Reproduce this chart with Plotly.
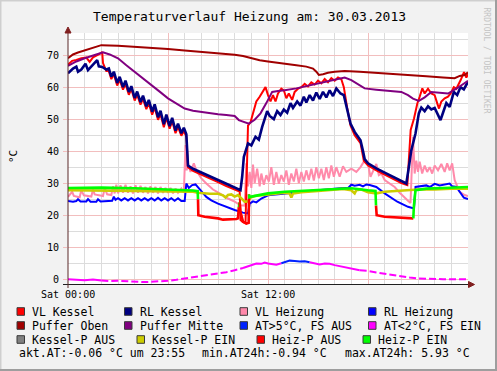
import plotly.graph_objects as go

# ---------------- data (hours since Sat 00:00, °C) ----------------
PUFFER_OBEN_T = [0, 0.3, 0.6, 1.0, 1.4, 1.7, 2.0, 3, 4, 5, 6, 7, 8, 9, 10, 10.5, 11, 11.5, 12, 12.5, 13,
                 13.7, 14.3, 14.7, 14.9, 15.05, 15.3, 15.6, 16.0, 16.6, 17.5, 18.5, 19.5, 20.5, 21.5, 22.5,
                 23.2, 23.5, 23.8, 24]
PUFFER_OBEN_V = [69, 70.2, 70.8, 71.4, 72.0, 72.5, 73.1, 72.9, 72.6, 72.3, 71.9, 71.4, 71.0, 70.6, 70.1,
                 69.7, 69.0, 68.4, 68.0, 67.6, 67.2, 66.8, 66.4, 65.8, 64.8, 63.8, 64.0, 64.5, 64.8, 65.0,
                 64.8, 64.5, 64.2, 63.8, 63.4, 63.0, 62.8, 63.5, 63.8, 64.6]

PUFFER_MITTE_T = [0, 0.5, 1.0, 1.5, 2.1, 2.5, 3.0, 3.5, 4.0, 4.5, 5.0, 5.5, 6.0, 6.5, 7.0, 7.5, 8.0, 8.5,
                  9.0, 9.5, 10.0, 10.25, 10.5, 10.85, 11.2, 11.55, 11.9, 12.25, 12.6, 13.0, 13.7, 14.3,
                  15.0, 15.6, 16.2, 16.6, 17.0, 17.4, 17.8, 18.5, 19.3, 20.0, 20.4, 20.7, 21.05, 21.4,
                  21.8, 22.3, 22.8, 23.3, 23.8, 24]
PUFFER_MITTE_V = [66.6, 68, 69, 69.8, 70.9, 70.2, 69.0, 66.8, 64.8, 62.7, 60.6, 58.6, 56.5, 54.8, 53.3,
                  52.6, 52.2, 51.8, 51.5, 51.3, 51.0, 49.7, 49.2, 48.6, 49.8, 51.8, 55.0, 58.5, 58.8,
                  59.0, 59.6, 60.3, 61.1, 61.7, 62.4, 63.0, 62.2, 60.8, 59.6, 59.2, 58.9, 58.5, 57.5,
                  56.4, 55.7, 56.8, 58.5, 58.3, 58.0, 59.5, 61.1, 62.0]

RL_KESSEL_T = [0.0, 0.3, 0.5, 0.6, 0.8, 1.05, 1.2, 1.4, 1.75, 1.85, 2.05, 2.3, 2.45, 2.6, 2.75, 2.95, 3.1,
               3.3, 3.45, 3.65, 3.8, 4.0, 4.15, 4.35, 4.5, 4.7, 4.85, 5.05, 5.2, 5.4, 5.55, 5.75, 5.9,
               6.1, 6.25, 6.45, 6.6, 6.8, 6.95, 7.1, 7.2, 7.5, 8.0, 8.5, 9.0, 9.5, 10.0, 10.35, 10.45,
               10.55, 10.8, 11.0, 11.25, 11.45, 11.65, 11.8, 11.95, 12.1, 12.35, 12.55, 12.75, 12.95,
               13.15, 13.35, 13.5, 13.75, 13.95, 14.15, 14.3, 14.5, 14.7, 14.9, 15.1, 15.3, 15.5, 15.7,
               15.9, 16.1, 16.35, 16.55, 16.75, 16.95, 17.2, 17.55, 17.7, 17.8, 18.0, 18.5, 19.0, 19.5,
               20.0, 20.3, 20.45, 20.6, 20.85, 21.05, 21.2, 21.4, 21.6, 21.8, 22.0, 22.2, 22.35, 22.5,
               22.7, 22.9, 23.15, 23.35, 23.55, 23.75, 23.9, 24.0]
RL_KESSEL_V = [64.3, 65.8, 66.4, 64.8, 65.5, 67.3, 65.3, 66.5, 68.4, 66.5, 66.3, 65.5, 65.8, 63.3, 64.8,
               61.3, 63.2, 60.0, 62.0, 58.5, 60.3, 56.6, 58.6, 55.3, 57.3, 54.0, 56.0, 52.3, 54.6, 50.6,
               52.6, 48.4, 51.4, 47.8, 50.4, 46.4, 48.6, 45.6, 47.3, 45.3, 35.5, 34.5, 33.4, 32.3, 31.0,
               29.8, 28.6, 27.8, 32.0, 38.2, 42.4, 41.8, 44.5, 43.6, 47.6, 49.8, 52.5, 51.0, 50.0, 52.5,
               51.3, 53.0, 52.0, 55.0, 53.5, 55.5, 54.2, 57.0, 55.2, 57.5, 55.8, 58.3, 56.3, 58.5, 56.8,
               59.0, 57.2, 59.6, 58.0, 57.5, 53.0, 48.6, 46.0, 43.4, 40.0, 37.5, 36.2, 34.6, 33.3, 31.9,
               30.6, 29.9, 35.0, 40.3, 45.5, 51.8, 53.6, 52.5, 54.0, 53.0, 53.5, 51.0, 49.7, 52.0, 55.0,
               53.8, 58.5, 57.5, 60.0, 59.3, 61.0, 61.7]

VL_KESSEL_T = [0.0, 0.25, 0.5, 0.8, 1.1, 1.3, 1.5, 1.8, 1.95, 2.05, 2.1, 2.3, 2.45, 2.6, 2.75, 2.95, 3.1,
               3.3, 3.45, 3.65, 3.8, 4.0, 4.15, 4.35, 4.5, 4.7, 4.85, 5.05, 5.2, 5.4, 5.55, 5.75, 5.9,
               6.1, 6.25, 6.45, 6.6, 6.8, 6.95, 7.1, 7.2, 7.5, 8.0, 8.5, 9.0, 9.5, 10.0, 10.3, 10.35,
               10.5, 10.65, 10.7, 10.8, 10.95, 11.1, 11.3, 11.5, 11.7, 11.85, 12.0, 12.15, 12.3, 12.45,
               12.6, 12.8, 12.95, 13.1, 13.25, 13.45, 13.6, 13.8, 14.0, 14.2, 14.4, 14.6, 14.8, 15.0,
               15.2, 15.4, 15.6, 15.8, 16.0, 16.2, 16.4, 16.55, 16.75, 16.95, 17.2, 17.55, 17.75, 18.0,
               18.5, 19.0, 19.5, 20.0, 20.36, 20.5, 20.56, 20.76, 20.96, 21.1, 21.26, 21.4, 21.6, 21.8,
               22.0, 22.15, 22.26, 22.4, 22.6, 22.8, 22.96, 23.15, 23.3, 23.56, 23.76, 23.9, 24.0]
VL_KESSEL_V = [67.0, 68.2, 68.5, 69.0, 69.2, 67.9, 69.3, 70.0, 70.5, 71.0, 67.5, 65.0, 65.0, 62.5, 64.0,
               60.5, 62.3, 59.2, 61.0, 57.6, 59.4, 55.8, 57.6, 54.5, 56.3, 53.1, 55.0, 51.4, 53.6, 49.8,
               51.6, 47.5, 50.4, 47.0, 49.4, 45.6, 47.6, 44.8, 46.3, 44.5, 35.0, 33.8, 32.7, 31.6, 30.3,
               29.1, 27.9, 27.4, 18.5, 17.8, 17.5, 30.0, 48.0, 49.0, 52.0, 55.5, 57.0, 58.5, 60.0, 57.5,
               55.5, 57.5, 55.5, 58.0, 59.5, 59.0, 56.5, 58.0, 56.0, 58.5, 59.5, 60.0, 61.0, 60.2, 61.5,
               60.8, 62.0, 61.2, 62.5, 61.5, 62.8, 62.0, 63.0, 62.5, 60.0, 53.5, 48.0, 45.0, 42.5, 37.0,
               35.5, 34.0, 32.6, 31.3, 30.0, 29.4, 40.0, 46.6, 50.2, 54.9, 57.0, 59.6, 58.0, 59.5, 58.0,
               57.5, 55.0, 53.3, 55.5, 56.5, 57.0, 58.0, 60.0, 59.5, 62.2, 64.7, 63.0, 64.0]

VL_HEIZUNG_T = [0.0, 0.25, 0.35, 0.7, 0.8, 0.95, 1.4, 1.5, 1.6, 2.1, 2.2, 2.35, 2.6, 2.7, 2.8, 2.9, 3.0,
                3.15, 3.3, 3.45, 3.6, 3.75, 3.9, 4.05, 4.2, 4.35, 4.5, 4.65, 4.8, 4.95, 5.1, 5.25, 5.4,
                5.55, 5.7, 5.85, 6.0, 6.15, 6.3, 6.45, 6.6, 6.8, 6.95, 7.05, 7.12, 7.2, 7.35, 7.55, 7.7,
                8.0, 8.3, 8.7, 9.1, 9.6, 10.0, 10.35, 10.6, 10.7, 10.8, 10.9, 11.0, 11.1, 11.2, 11.35,
                11.5, 11.6, 11.75, 11.9, 12.05, 12.2, 12.35, 12.5, 12.65, 12.8, 12.95, 13.1, 13.25, 13.4,
                13.55, 13.7, 13.85, 14.0, 14.15, 14.3, 14.45, 14.6, 14.75, 14.9, 15.05, 15.2, 15.35,
                15.5, 15.65, 15.8, 15.95, 16.1, 16.3, 16.5, 16.7, 17.0, 17.3, 17.55, 17.75, 18.0, 18.15,
                18.3, 18.5, 18.65, 18.8, 19.0, 19.3, 19.6, 19.9, 20.2, 20.4, 20.55, 20.7, 20.8, 20.9,
                21.0, 21.1, 21.25, 21.4, 21.55, 21.7, 21.85, 22.0, 22.2, 22.4, 22.6, 22.75, 22.9, 23.05,
                23.2, 23.5, 23.8, 24.0]
VL_HEIZUNG_V = [25.7, 27.3, 26.0, 25.6, 27.8, 26.2, 25.8, 28.0, 26.5, 26.0, 28.5, 26.5, 26.3, 29.0, 26.8,
                29.5, 26.8, 29.3, 27.0, 29.5, 27.0, 29.0, 26.8, 29.3, 27.0, 29.2, 27.0, 28.8, 26.8, 29.0,
                27.0, 28.8, 26.8, 28.8, 27.0, 28.5, 27.0, 28.5, 26.8, 28.3, 27.0, 28.3, 27.0, 41.9, 34.0,
                36.2, 33.5, 36.2, 34.0, 31.5, 29.9, 28.0, 26.8, 25.2, 24.2, 23.1, 23.0, 36.2, 29.0, 33.5,
                28.5, 35.8, 30.0, 34.5, 29.0, 33.0, 29.5, 32.5, 30.5, 35.0, 29.5, 33.5, 29.8, 32.5, 30.5,
                34.0, 29.5, 33.0, 30.5, 34.5, 30.0, 33.5, 30.5, 34.0, 31.0, 34.5, 30.8, 35.0, 31.5, 34.5,
                31.0, 35.0, 31.5, 35.5, 32.0, 35.0, 32.0, 35.3, 33.5, 34.5, 33.5, 35.0, 36.7, 36.0, 32.0,
                33.5, 36.0, 32.5, 33.0, 31.0, 30.0, 28.8, 27.0, 25.3, 24.5, 23.8, 44.5, 33.0, 37.0, 33.5,
                36.7, 33.0, 35.5, 33.5, 35.0, 33.0, 35.5, 34.0, 36.0, 33.5, 36.2, 34.0, 36.2, 30.9, 27.3,
                26.3, 26.0]

RL_HEIZUNG_T = [0.0, 0.3, 0.5, 0.6, 0.75, 1.1, 1.2, 1.35, 1.7, 1.8, 1.95, 2.3, 2.65, 2.75, 2.85, 3.0, 3.2,
                3.4, 3.6, 3.8, 4.0, 4.2, 4.4, 4.6, 4.8, 5.0, 5.2, 5.4, 5.6, 5.8, 6.0, 6.2, 6.4, 6.6, 6.8,
                7.0, 7.1, 7.25, 7.45, 7.65, 7.8, 8.0, 8.3, 8.6, 9.0, 9.5, 10.0, 10.5, 10.8, 10.9, 11.1,
                11.3, 11.6, 12.0, 12.5, 13.0, 13.5, 14.0, 14.5, 15.0, 15.5, 16.0, 16.5, 16.8, 17.0, 17.2,
                17.5, 17.7, 17.9, 18.1, 18.5, 19.0, 19.76, 20.4, 20.76, 20.85, 21.2, 21.5, 21.7, 22.0,
                22.3, 22.6, 22.9, 23.05, 23.3, 23.5, 23.75, 24.0]
RL_HEIZUNG_V = [24.4, 24.2, 24.4, 25.0, 24.3, 24.3, 25.0, 24.2, 24.2, 25.0, 24.3, 24.5, 24.5, 25.8, 24.8,
                25.3, 24.6, 25.3, 24.6, 25.3, 24.6, 25.3, 24.6, 25.3, 24.6, 25.3, 24.6, 25.4, 24.6, 25.3,
                24.6, 25.3, 24.5, 25.3, 24.4, 24.4, 29.9, 28.5, 29.4, 29.6, 28.8, 27.5, 25.7, 24.6, 23.6,
                22.5, 21.6, 20.8, 20.5, 23.6, 24.3, 24.0, 25.2, 26.2, 26.5, 26.8, 27.0, 27.4, 27.6, 27.8,
                28.0, 28.3, 28.5, 28.4, 29.5, 29.2, 29.5, 29.0, 29.6, 29.4, 28.8, 26.8, 24.2, 22.6, 22.1,
                28.8, 29.0, 29.3, 28.8, 29.8, 29.3, 29.6, 29.9, 29.0, 28.8, 27.3, 25.5, 25.0]

KESSEL_P_T = [0.0, 1.0, 2.0, 3.0, 4.0, 5.0, 6.0, 7.0, 7.5, 7.8, 8.0, 8.5, 9.0, 9.3, 9.45, 9.6, 9.8, 10.0,
              10.2, 10.4, 10.6, 10.8, 10.95, 11.2, 11.5, 12.0, 12.5, 13.0, 13.3, 13.4, 13.5, 14.0, 15.0,
              16.0, 16.5, 17.0, 17.2, 17.3, 17.6, 18.0, 18.5, 19.0, 19.5, 20.0, 20.5, 21.0, 22.0, 23.0,
              24.0]
KESSEL_P_V = [27.8, 27.8, 27.7, 27.7, 27.6, 27.5, 27.4, 27.3, 27.3, 27.0, 26.9, 26.7, 26.7, 26.2, 25.5,
              26.3, 26.5, 25.8, 26.3, 25.4, 24.2, 24.3, 25.5, 26.0, 26.2, 26.5, 26.8, 27.0, 26.8, 25.5,
              26.8, 27.2, 27.6, 28.0, 28.2, 27.8, 26.8, 27.8, 28.0, 27.2, 26.8, 27.3, 27.5, 27.7, 27.9,
              28.0, 28.0, 28.3, 28.3]

HEIZ_P_T = [0.0, 2.0, 4.0, 6.0, 7.0, 7.5, 7.78, 7.8, 7.82, 8.2, 8.5, 9.0, 9.3, 9.8, 10.1, 10.2, 10.25,
            10.3, 10.35, 10.5, 10.7, 10.84, 10.86, 10.88, 11.0, 11.5, 12.0, 13.0, 14.0, 15.0, 16.0, 17.0,
            18.0, 18.45, 18.48, 18.52, 19.0, 20.0, 20.6, 20.72, 20.75, 20.85, 21.5, 22.5, 23.5, 24.0]
HEIZ_P_V = [28.5, 28.6, 28.4, 28.1, 27.8, 27.7, 27.5, 25.0, 20.0, 19.5, 19.4, 19.0, 18.6, 18.6, 18.8,
            19.0, 22.5, 24.0, 21.0, 18.0, 17.4, 17.6, 26.5, 25.6, 25.8, 26.2, 26.8, 27.3, 27.6, 28.0,
            28.3, 28.4, 27.8, 27.6, 23.0, 20.0, 19.5, 19.2, 19.0, 19.0, 22.6, 27.8, 28.3, 28.5, 28.8,
            28.8]
HEIZ_P_ON = [1, 1, 1, 1, 1, 1, 1, 1, 0, 0, 0, 0, 0, 0, 0, 0, 0, 1, 0, 0, 0, 0, 0, 1, 1, 1, 1, 1, 1, 1,
             1, 1, 1, 1, 1, 0, 0, 0, 0, 0, 1, 1, 1, 1, 1, 1]

AT_T = [0.0, 0.5, 1.0, 1.5, 2.0, 2.5, 3.0, 3.5, 4.0, 4.5, 5.0, 5.5, 6.0, 6.5, 7.0, 7.5, 8.0, 8.5, 9.0,
        9.5, 10.0, 10.5, 11.0, 11.3, 11.6, 11.8, 12.0, 12.3, 12.5, 12.8, 13.0, 13.3, 13.6, 13.9, 14.2,
        14.5, 14.8, 15.1, 15.4, 15.7, 16.0, 16.5, 17.0, 17.5, 18.0, 18.5, 19.0, 19.5, 20.0, 20.5, 21.0,
        21.5, 22.0, 22.5, 23.0, 23.5, 24.0]
AT_V = [0.0, -0.2, -0.3, -0.1, -0.4, -0.6, -0.5, -0.7, -0.8, -0.9, -0.8, -0.7, -0.5, -0.2, 0.2, 0.5,
        0.9, 1.3, 1.7, 2.2, 2.8, 3.5, 4.5, 4.9, 4.8, 5.2, 4.9, 4.6, 4.5, 5.0, 5.4, 5.8, 5.7, 5.5, 5.6,
        5.3, 5.0, 4.6, 4.9, 4.8, 4.4, 3.9, 3.3, 2.8, 2.6, 2.1, 1.7, 1.1, 0.7, 0.5, 0.2, 0.1, -0.1, 0.0,
        0.0, -0.1, -0.06]

X_TICKS = [0, 6, 12, 18]
X_TICK_LABELS = ["Sat 00:00", "", "Sat 12:00", ""]
Y_TICKS = [0, 10, 20, 30, 40, 50, 60, 70]

LEGEND_ROWS = [
    [("VL Kessel", "#FF0000"), ("RL Kessel", "#000080"), ("VL Heizung", "#FF88AA"), ("RL Heizung", "#0000FF")],
    [("Puffer Oben", "#A00000"), ("Puffer Mitte", "#800080"), ("AT>5°C, FS AUS", "#0022FF"),
     ("AT<2°C, FS EIN", "#FF00FF")],
    [("Kessel-P AUS", "#808080"), ("Kessel-P EIN", "#CCCC00"), ("Heiz-P AUS", "#FF0000"),
     ("Heiz-P EIN", "#00FF00")],
]
STATS_TEXT = ["akt.AT:-0.06 °C um 23:55", "min.AT24h:-0.94 °C", "max.AT24h: 5.93 °C"]
TITLE = "Temperaturverlauf Heizung am: 30.03.2013"

# ---------------- styling / geometry ----------------
W, H = 497, 371
PL, PR, PT, PB = 68, 468, 33, 284
MONO = "DejaVu Sans Mono"
MAJ = "#F2BEBE"
MIN = "#DCDCDC"
LEG_FONT = 11.5


def PX(x):
    return (x - PL) / (PR - PL)


def PY(y):
    return (PB - y) / (PB - PT)


fig = go.Figure()


def add_line(t, v, color, width, dash="solid"):
    fig.add_trace(go.Scatter(x=t, y=v, mode="lines",
                             line=dict(color=color, width=width, dash=dash),
                             hoverinfo="skip", showlegend=False))


def add_segmented(t, v, keys, width):
    start = 0
    cur = keys[0]
    for i in range(1, len(keys)):
        if keys[i] != cur:
            add_line(t[start:i + 1], v[start:i + 1], cur[0], width, cur[1])
            start = i
            cur = keys[i]
    add_line(t[start:], v[start:], cur[0], width, cur[1])


add_line(VL_HEIZUNG_T, VL_HEIZUNG_V, "#FF8AAA", 2)
add_line(RL_HEIZUNG_T, RL_HEIZUNG_V, "#0000FF", 2)
add_line(VL_KESSEL_T, VL_KESSEL_V, "#FF0000", 2)
add_line(RL_KESSEL_T, RL_KESSEL_V, "#000080", 2.6)
add_line(PUFFER_OBEN_T, PUFFER_OBEN_V, "#A00000", 2)
add_line(PUFFER_MITTE_T, PUFFER_MITTE_V, "#800080", 2)

# outside temperature: blue when above 5°C, magenta otherwise; gaps shown dashed
SOLID_RANGES = [(0, 2.2), (10.3, 17.6)]
at_keys = []
for i in range(len(AT_T) - 1):
    mid = (AT_T[i] + AT_T[i + 1]) / 2
    col = "#0022FF" if AT_V[i + 1] > 5.0 and AT_V[i] > 4.9 else "#FF00FF"
    solid = any(a <= mid <= b for a, b in SOLID_RANGES)
    at_keys.append((col, "solid" if solid else "7px,3px"))
add_segmented(AT_T, AT_V, at_keys, 2)

add_line(KESSEL_P_T, KESSEL_P_V, "#CCCC00", 2.6)
hp_keys = [("#00FF00" if HEIZ_P_ON[i + 1] else "#FF0000", "solid") for i in range(len(HEIZ_P_T) - 1)]
add_segmented(HEIZ_P_T, HEIZ_P_V, hp_keys, 2.6)

shapes = []
# frame shading
shapes.append(dict(type="rect", xref="paper", yref="paper", x0=PX(0), x1=PX(W), y0=PY(0), y1=PY(1.5),
                   line=dict(width=0), fillcolor="#CFCFCF", layer="below"))
shapes.append(dict(type="rect", xref="paper", yref="paper", x0=PX(0), x1=PX(1.5), y0=PY(0), y1=PY(H),
                   line=dict(width=0), fillcolor="#CFCFCF", layer="below"))
shapes.append(dict(type="rect", xref="paper", yref="paper", x0=PX(W - 2), x1=PX(W), y0=PY(0), y1=PY(H),
                   line=dict(width=0), fillcolor="#9E9E9E", layer="below"))
shapes.append(dict(type="rect", xref="paper", yref="paper", x0=PX(0), x1=PX(W), y0=PY(H - 2), y1=PY(H),
                   line=dict(width=0), fillcolor="#9E9E9E", layer="below"))
# axes + arrows
shapes.append(dict(type="line", xref="paper", yref="paper", x0=PX(63), x1=PX(469), y0=PY(284.5), y1=PY(284.5),
                   line=dict(color="#1F1F1F", width=1)))
shapes.append(dict(type="line", xref="paper", yref="paper", x0=PX(68), x1=PX(68), y0=PY(288), y1=PY(30),
                   line=dict(color="#5A2828", width=1)))
shapes.append(dict(type="path", xref="paper", yref="paper",
                   path=f"M {PX(468.5)},{PY(281.5)} L {PX(474.5)},{PY(284.5)} L {PX(468.5)},{PY(287.5)} Z",
                   fillcolor="#801F1F", line=dict(color="#801F1F", width=1)))
shapes.append(dict(type="path", xref="paper", yref="paper",
                   path=f"M {PX(65)},{PY(33)} L {PX(68)},{PY(27)} L {PX(71)},{PY(33)} Z",
                   fillcolor="#801F1F", line=dict(color="#801F1F", width=1)))

annotations = []
annotations.append(dict(text=TITLE, x=PX(249), y=PY(16.5), xref="paper", yref="paper", showarrow=False,
                        xanchor="center", yanchor="middle", font=dict(family=MONO, size=13, color="#000")))
annotations.append(dict(text="°C", x=PX(13), y=PY(156), xref="paper", yref="paper", showarrow=False,
                        textangle=-90, xanchor="center", yanchor="middle",
                        font=dict(family=MONO, size=11, color="#000")))
annotations.append(dict(text="RRDTOOL / TOBI OETIKER", x=PX(486.5), y=PY(61), xref="paper", yref="paper",
                        showarrow=False, textangle=90, xanchor="center", yanchor="middle",
                        font=dict(family=MONO, size=8, color="#C4C4C4")))

# x tick labels placed as text at the tick positions
for tv, tl in zip(X_TICKS, X_TICK_LABELS):
    if tl:
        annotations.append(dict(text=tl, x=tv, y=PY(294), xref="x", yref="paper", showarrow=False,
                                xanchor="center", yanchor="middle",
                                font=dict(family=MONO, size=10, color="#000")))

ROW_Y = [311.5, 325.5, 339.5]
COL_X = [[17, 124.5, 240, 368.5], [17, 124.5, 240, 368.5], [17, 137, 257, 363]]
for r, row in enumerate(LEGEND_ROWS):
    for c, (label, color) in enumerate(row):
        sx = COL_X[r][c]
        sy = ROW_Y[r]
        shapes.append(dict(type="rect", xref="paper", yref="paper", x0=PX(sx), x1=PX(sx + 7.5),
                           y0=PY(sy + 3.8), y1=PY(sy - 3.8), fillcolor=color,
                           line=dict(color="#3A3A3A", width=1)))
        annotations.append(dict(text=label, x=PX(sx + 13), y=PY(sy), xref="paper", yref="paper",
                                showarrow=False, xanchor="left", yanchor="middle",
                                font=dict(family=MONO, size=LEG_FONT, color="#000")))
for txt, sx in zip(STATS_TEXT, [16.5, 200, 343]):
    annotations.append(dict(text=txt, x=PX(sx), y=PY(353), xref="paper", yref="paper", showarrow=False,
                            xanchor="left", yanchor="middle",
                            font=dict(family=MONO, size=LEG_FONT, color="#000")))

fig.update_layout(
    width=W, height=H, autosize=False,
    margin=dict(l=PL, r=W - PR, t=PT, b=H - PB, pad=0),
    paper_bgcolor="#F2F2F2", plot_bgcolor="#FFFFFF",
    showlegend=False,
    xaxis=dict(range=[0, 24], tickmode="array", tickvals=X_TICKS, ticktext=X_TICK_LABELS,
               showticklabels=False,
               showgrid=True, gridcolor=MAJ, gridwidth=1, zeroline=False, showline=False,
               ticks="",
               minor=dict(tickmode="linear", tick0=0, dtick=1, showgrid=True, gridcolor=MIN, gridwidth=1),
               fixedrange=True),
    yaxis=dict(range=[-1.5, 76.9], tickmode="array", tickvals=Y_TICKS,
               showgrid=True, gridcolor=MAJ, gridwidth=1, zeroline=False, showline=False,
               ticks="outside", ticklen=4, tickcolor=MAJ, ticklabelstandoff=2,
               tickfont=dict(family=MONO, size=10, color="#000"),
               minor=dict(tickmode="linear", tick0=0, dtick=5, showgrid=True, gridcolor=MIN, gridwidth=1),
               fixedrange=True),
    shapes=shapes,
    annotations=annotations,
)

fig.write_html("out.html", config={"displayModeBar": False},
               post_script="document.body.style.margin='0';document.body.style.padding='0';")
